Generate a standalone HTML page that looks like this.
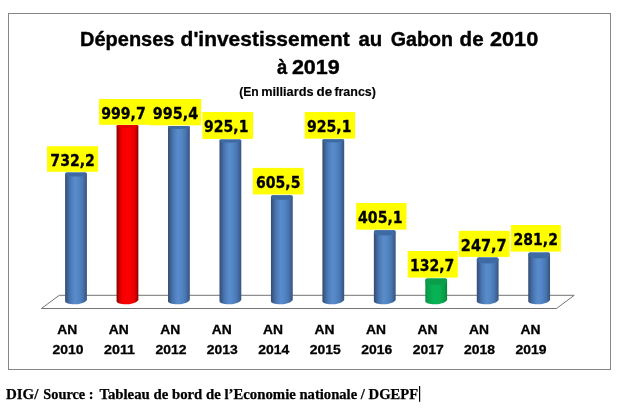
<!DOCTYPE html>
<html lang="fr">
<head>
<meta charset="utf-8">
<title>Dépenses d'investissement au Gabon de 2010 à 2019</title>
<style>
html,body{margin:0;padding:0;background:#fff;}
body{width:620px;height:409px;overflow:hidden;position:relative;}
svg{position:absolute;left:0;top:0;display:block;}
.t{font-family:"Liberation Sans",sans-serif;font-weight:bold;fill:#000;stroke:#000;}
.d{font-family:"DejaVu Sans","Liberation Sans",sans-serif;font-weight:bold;fill:#000;stroke:#000;}
.f{font-family:"Liberation Serif",serif;font-weight:bold;fill:#000;}
</style>
</head>
<body>
<svg width="620" height="409" viewBox="0 0 620 409">
<defs>
<linearGradient id="gb" x1="0" y1="0" x2="1" y2="0">
<stop offset="0" stop-color="#334c75"/><stop offset="0.07" stop-color="#3a5886"/><stop offset="0.18" stop-color="#466ea6"/><stop offset="0.3" stop-color="#4d7fbf"/><stop offset="0.45" stop-color="#5b8cc9"/><stop offset="0.6" stop-color="#5287c8"/><stop offset="0.78" stop-color="#4a79b4"/><stop offset="0.9" stop-color="#40659a"/><stop offset="1" stop-color="#35517c"/>
</linearGradient>
<linearGradient id="gr" x1="0" y1="0" x2="1" y2="0">
<stop offset="0" stop-color="#860000"/><stop offset="0.06" stop-color="#a60000"/><stop offset="0.16" stop-color="#d80000"/><stop offset="0.3" stop-color="#fa0000"/><stop offset="0.6" stop-color="#fc0000"/><stop offset="0.8" stop-color="#ec0000"/><stop offset="0.91" stop-color="#c00000"/><stop offset="1" stop-color="#860000"/>
</linearGradient>
<linearGradient id="gg" x1="0" y1="0" x2="1" y2="0">
<stop offset="0" stop-color="#0a8a40"/><stop offset="0.12" stop-color="#08a24c"/><stop offset="0.4" stop-color="#06b355"/><stop offset="0.65" stop-color="#07b053"/><stop offset="0.88" stop-color="#099a48"/><stop offset="1" stop-color="#0a803b"/>
</linearGradient>
</defs>
<rect x="0" y="0" width="620" height="409" fill="#fff"/>
<rect x="8.5" y="13.5" width="602" height="356" fill="#fff" stroke="#868686" stroke-width="1"/>
<text class="t" x="80.10" y="45.7" font-size="20.8" stroke-width="0.4" textLength="94.30" lengthAdjust="spacingAndGlyphs">Dépenses</text>
<text class="t" x="180.60" y="45.7" font-size="20.8" stroke-width="0.4" textLength="169.09" lengthAdjust="spacingAndGlyphs">d'investissement</text>
<text class="t" x="358.40" y="45.7" font-size="20.8" stroke-width="0.4" textLength="23.84" lengthAdjust="spacingAndGlyphs">au</text>
<text class="t" x="390.80" y="45.7" font-size="20.8" stroke-width="0.4" textLength="62.13" lengthAdjust="spacingAndGlyphs">Gabon</text>
<text class="t" x="459.60" y="45.7" font-size="20.8" stroke-width="0.4" textLength="24.04" lengthAdjust="spacingAndGlyphs">de</text>
<text class="t" x="489.90" y="45.7" font-size="20.8" stroke-width="0.4" textLength="48.39" lengthAdjust="spacingAndGlyphs">2010</text>
<text class="t" x="277.10" y="74.4" font-size="20.8" stroke-width="0.4" textLength="10.23" lengthAdjust="spacingAndGlyphs">à</text>
<text class="t" x="291.90" y="74.4" font-size="20.8" stroke-width="0.4" textLength="47.89" lengthAdjust="spacingAndGlyphs">2019</text>
<text class="t" x="239.17" y="95.6" font-size="12.5" stroke-width="0.15" textLength="19.56" lengthAdjust="spacingAndGlyphs">(En</text>
<text class="t" x="261.18" y="95.6" font-size="12.5" stroke-width="0.15" textLength="52.32" lengthAdjust="spacingAndGlyphs">milliards</text>
<text class="t" x="316.47" y="95.6" font-size="12.5" stroke-width="0.15" textLength="15.68" lengthAdjust="spacingAndGlyphs">de</text>
<text class="t" x="334.38" y="95.6" font-size="12.5" stroke-width="0.15" textLength="41.55" lengthAdjust="spacingAndGlyphs">francs)</text>
<polygon points="41.4,308.5 59.3,295.3 574.2,295.3 556.5,308.5" fill="#fff" stroke="#747474" stroke-width="1"/>
<path d="M65.10,174.44 L65.10,301.30 C65.40,305.40 83.40,305.70 86.90,299.90 L86.90,174.44 C86.90,172.80 86.30,172.40 83.70,172.40 L68.30,172.40 C65.70,172.40 65.10,172.80 65.10,174.44 Z" fill="url(#gb)"/>
<path d="M86.90,174.44 C86.90,172.80 86.30,172.40 83.70,172.40 L68.30,172.40 C65.70,172.40 65.10,172.80 65.10,174.44 A10.9,2.04 0 0 0 86.90,174.44 Z" fill="#3e6aa3"/>
<path d="M116.56,126.50 L116.56,301.30 C116.86,305.40 134.86,305.70 138.36,299.90 L138.36,126.50 C138.36,125.40 137.76,125.00 135.16,125.00 L119.76,125.00 C117.16,125.00 116.56,125.40 116.56,126.50 Z" fill="url(#gr)"/>
<path d="M138.36,126.50 C138.36,125.40 137.76,125.00 135.16,125.00 L119.76,125.00 C117.16,125.00 116.56,125.40 116.56,126.50 A10.9,1.50 0 0 0 138.36,126.50 Z" fill="#e20000"/>
<path d="M168.02,127.41 L168.02,301.30 C168.32,305.40 186.32,305.70 189.82,299.90 L189.82,127.41 C189.82,126.30 189.22,125.90 186.62,125.90 L171.22,125.90 C168.62,125.90 168.02,126.30 168.02,127.41 Z" fill="url(#gb)"/>
<path d="M189.82,127.41 C189.82,126.30 189.22,125.90 186.62,125.90 L171.22,125.90 C168.62,125.90 168.02,126.30 168.02,127.41 A10.9,1.51 0 0 0 189.82,127.41 Z" fill="#3e6aa3"/>
<path d="M219.48,141.06 L219.48,301.30 C219.78,305.40 237.78,305.70 241.28,299.90 L241.28,141.06 C241.28,139.80 240.68,139.40 238.08,139.40 L222.68,139.40 C220.08,139.40 219.48,139.80 219.48,141.06 Z" fill="url(#gb)"/>
<path d="M241.28,141.06 C241.28,139.80 240.68,139.40 238.08,139.40 L222.68,139.40 C220.08,139.40 219.48,139.80 219.48,141.06 A10.9,1.66 0 0 0 241.28,141.06 Z" fill="#3e6aa3"/>
<path d="M270.94,197.50 L270.94,301.30 C271.24,305.40 289.24,305.70 292.74,299.90 L292.74,197.50 C292.74,195.60 292.14,195.20 289.54,195.20 L274.14,195.20 C271.54,195.20 270.94,195.60 270.94,197.50 Z" fill="url(#gb)"/>
<path d="M292.74,197.50 C292.74,195.60 292.14,195.20 289.54,195.20 L274.14,195.20 C271.54,195.20 270.94,195.60 270.94,197.50 A10.9,2.30 0 0 0 292.74,197.50 Z" fill="#3e6aa3"/>
<path d="M322.40,140.86 L322.40,301.30 C322.70,305.40 340.70,305.70 344.20,299.90 L344.20,140.86 C344.20,139.60 343.60,139.20 341.00,139.20 L325.60,139.20 C323.00,139.20 322.40,139.60 322.40,140.86 Z" fill="url(#gb)"/>
<path d="M344.20,140.86 C344.20,139.60 343.60,139.20 341.00,139.20 L325.60,139.20 C323.00,139.20 322.40,139.60 322.40,140.86 A10.9,1.66 0 0 0 344.20,140.86 Z" fill="#3e6aa3"/>
<path d="M373.86,232.90 L373.86,301.30 C374.16,305.40 392.16,305.70 395.66,299.90 L395.66,232.90 C395.66,230.60 395.06,230.20 392.46,230.20 L377.06,230.20 C374.46,230.20 373.86,230.60 373.86,232.90 Z" fill="url(#gb)"/>
<path d="M395.66,232.90 C395.66,230.60 395.06,230.20 392.46,230.20 L377.06,230.20 C374.46,230.20 373.86,230.60 373.86,232.90 A10.9,2.70 0 0 0 395.66,232.90 Z" fill="#3e6aa3"/>
<path d="M425.32,281.64 L425.32,301.30 C425.62,305.40 443.62,305.70 447.12,299.90 L447.12,281.64 C447.12,278.80 446.52,278.40 443.92,278.40 L428.52,278.40 C425.92,278.40 425.32,278.80 425.32,281.64 Z" fill="url(#gg)"/>
<path d="M447.12,281.64 C447.12,278.80 446.52,278.40 443.92,278.40 L428.52,278.40 C425.92,278.40 425.32,278.80 425.32,281.64 A10.9,3.24 0 0 0 447.12,281.64 Z" fill="#0a9e4b"/>
<path d="M476.78,260.40 L476.78,301.30 C477.08,305.40 495.08,305.70 498.58,299.90 L498.58,260.40 C498.58,257.80 497.98,257.40 495.38,257.40 L479.98,257.40 C477.38,257.40 476.78,257.80 476.78,260.40 Z" fill="url(#gb)"/>
<path d="M498.58,260.40 C498.58,257.80 497.98,257.40 495.38,257.40 L479.98,257.40 C477.38,257.40 476.78,257.80 476.78,260.40 A10.9,3.00 0 0 0 498.58,260.40 Z" fill="#3e6aa3"/>
<path d="M528.24,255.35 L528.24,301.30 C528.54,305.40 546.54,305.70 550.04,299.90 L550.04,255.35 C550.04,252.80 549.44,252.40 546.84,252.40 L531.44,252.40 C528.84,252.40 528.24,252.80 528.24,255.35 Z" fill="url(#gb)"/>
<path d="M550.04,255.35 C550.04,252.80 549.44,252.40 546.84,252.40 L531.44,252.40 C528.84,252.40 528.24,252.80 528.24,255.35 A10.9,2.95 0 0 0 550.04,255.35 Z" fill="#3e6aa3"/>
<rect x="47.0" y="146.2" width="51.10" height="25.60" fill="#ffff00"/>
<rect x="99.0" y="99.0" width="51.20" height="25.80" fill="#ffff00"/>
<rect x="150.0" y="99.0" width="51.10" height="26.30" fill="#ffff00"/>
<rect x="202.4" y="112.0" width="50.70" height="26.90" fill="#ffff00"/>
<rect x="252.8" y="167.9" width="50.80" height="26.50" fill="#ffff00"/>
<rect x="304.7" y="112.0" width="50.40" height="26.60" fill="#ffff00"/>
<rect x="356.2" y="203.0" width="50.30" height="26.60" fill="#ffff00"/>
<rect x="407.7" y="251.0" width="50.10" height="26.60" fill="#ffff00"/>
<rect x="458.8" y="230.8" width="50.80" height="26.10" fill="#ffff00"/>
<rect x="510.9" y="225.0" width="50.00" height="26.60" fill="#ffff00"/>
<text class="d" x="50.35" y="165.60" font-size="15.2" stroke-width="0.3" textLength="44.57" lengthAdjust="spacingAndGlyphs">732,2</text>
<text class="d" x="101.15" y="118.60" font-size="15.2" stroke-width="0.3" textLength="44.67" lengthAdjust="spacingAndGlyphs">999,7</text>
<text class="d" x="152.75" y="118.60" font-size="15.2" stroke-width="0.3" textLength="45.47" lengthAdjust="spacingAndGlyphs">995,4</text>
<text class="d" x="204.05" y="131.60" font-size="15.2" stroke-width="0.3" textLength="44.37" lengthAdjust="spacingAndGlyphs">925,1</text>
<text class="d" x="256.05" y="187.50" font-size="15.2" stroke-width="0.3" textLength="44.37" lengthAdjust="spacingAndGlyphs">605,5</text>
<text class="d" x="306.95" y="131.60" font-size="15.2" stroke-width="0.3" textLength="44.57" lengthAdjust="spacingAndGlyphs">925,1</text>
<text class="d" x="358.05" y="222.60" font-size="15.2" stroke-width="0.3" textLength="44.57" lengthAdjust="spacingAndGlyphs">405,1</text>
<text class="d" x="409.95" y="270.60" font-size="15.2" stroke-width="0.3" textLength="44.37" lengthAdjust="spacingAndGlyphs">132,7</text>
<text class="d" x="460.85" y="250.60" font-size="15.2" stroke-width="0.3" textLength="45.87" lengthAdjust="spacingAndGlyphs">247,7</text>
<text class="d" x="513.55" y="244.60" font-size="15.2" stroke-width="0.3" textLength="44.37" lengthAdjust="spacingAndGlyphs">281,2</text>
<text class="t" x="57.30" y="333.8" font-size="13.4" stroke-width="0.3" textLength="19.99" lengthAdjust="spacingAndGlyphs">AN</text>
<text class="t" x="52.55" y="353.5" font-size="13.4" stroke-width="0.3" textLength="31.00" lengthAdjust="spacingAndGlyphs">2010</text>
<text class="t" x="108.76" y="333.8" font-size="13.4" stroke-width="0.3" textLength="19.99" lengthAdjust="spacingAndGlyphs">AN</text>
<text class="t" x="104.00" y="353.5" font-size="13.4" stroke-width="0.3" textLength="30.99" lengthAdjust="spacingAndGlyphs">2011</text>
<text class="t" x="160.22" y="333.8" font-size="13.4" stroke-width="0.3" textLength="19.99" lengthAdjust="spacingAndGlyphs">AN</text>
<text class="t" x="155.44" y="353.5" font-size="13.4" stroke-width="0.3" textLength="31.00" lengthAdjust="spacingAndGlyphs">2012</text>
<text class="t" x="211.68" y="333.8" font-size="13.4" stroke-width="0.3" textLength="19.99" lengthAdjust="spacingAndGlyphs">AN</text>
<text class="t" x="206.89" y="353.5" font-size="13.4" stroke-width="0.3" textLength="31.00" lengthAdjust="spacingAndGlyphs">2013</text>
<text class="t" x="263.14" y="333.8" font-size="13.4" stroke-width="0.3" textLength="19.99" lengthAdjust="spacingAndGlyphs">AN</text>
<text class="t" x="258.33" y="353.5" font-size="13.4" stroke-width="0.3" textLength="31.00" lengthAdjust="spacingAndGlyphs">2014</text>
<text class="t" x="314.60" y="333.8" font-size="13.4" stroke-width="0.3" textLength="19.99" lengthAdjust="spacingAndGlyphs">AN</text>
<text class="t" x="309.77" y="353.5" font-size="13.4" stroke-width="0.3" textLength="31.00" lengthAdjust="spacingAndGlyphs">2015</text>
<text class="t" x="366.06" y="333.8" font-size="13.4" stroke-width="0.3" textLength="19.99" lengthAdjust="spacingAndGlyphs">AN</text>
<text class="t" x="361.22" y="353.5" font-size="13.4" stroke-width="0.3" textLength="31.00" lengthAdjust="spacingAndGlyphs">2016</text>
<text class="t" x="417.52" y="333.8" font-size="13.4" stroke-width="0.3" textLength="19.99" lengthAdjust="spacingAndGlyphs">AN</text>
<text class="t" x="412.66" y="353.5" font-size="13.4" stroke-width="0.3" textLength="31.00" lengthAdjust="spacingAndGlyphs">2017</text>
<text class="t" x="468.98" y="333.8" font-size="13.4" stroke-width="0.3" textLength="19.99" lengthAdjust="spacingAndGlyphs">AN</text>
<text class="t" x="464.11" y="353.5" font-size="13.4" stroke-width="0.3" textLength="31.00" lengthAdjust="spacingAndGlyphs">2018</text>
<text class="t" x="520.44" y="333.8" font-size="13.4" stroke-width="0.3" textLength="19.99" lengthAdjust="spacingAndGlyphs">AN</text>
<text class="t" x="515.55" y="353.5" font-size="13.4" stroke-width="0.3" textLength="31.00" lengthAdjust="spacingAndGlyphs">2019</text>
<text class="f" x="5.92" y="398.7" font-size="14.8" stroke="#000" stroke-width="0.25" textLength="32.45" lengthAdjust="spacingAndGlyphs">DIG/</text>
<text class="f" x="43.33" y="398.7" font-size="14.8" stroke="#000" stroke-width="0.25" textLength="50.23" lengthAdjust="spacingAndGlyphs">Source :</text>
<text class="f" x="99.42" y="398.7" font-size="14.8" stroke="#000" stroke-width="0.25" textLength="196.42" lengthAdjust="spacingAndGlyphs">Tableau de bord de l’Economie</text>
<text class="f" x="299.43" y="398.7" font-size="14.8" stroke="#000" stroke-width="0.25" textLength="118.77" lengthAdjust="spacingAndGlyphs">nationale / DGEPF</text>
<rect x="419.0" y="386" width="1.2" height="15.8" fill="#000"/>
</svg>
</body>
</html>
